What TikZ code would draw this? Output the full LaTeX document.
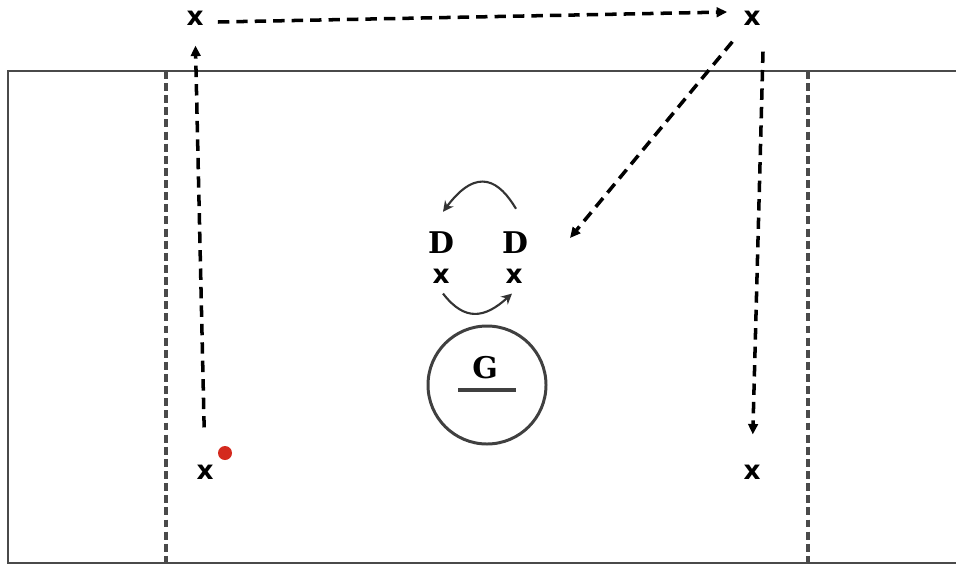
\documentclass[tikz,border=0pt]{standalone}
\usepackage{fontspec}
\setmainfont{DejaVu Sans}
\newfontfamily\letterfont{DejaVu Serif}
\usepackage{tikz}
\usetikzlibrary{arrows.meta,calc}
\definecolor{lines}{HTML}{4A4A4A}
\definecolor{ball}{HTML}{D42A1E}

\begin{document}
\begin{tikzpicture}[
      x=0.02cm, y=-0.02cm,
      player/.style={inner sep=0pt, font=\bfseries\fontsize{15}{15}\selectfont},
      defender/.style={inner sep=0pt, font=\letterfont\bfseries\fontsize{17}{17}\selectfont},
      field/.style={draw=lines, line width=1.5pt},
      crease/.style={draw=lines, line width=1.9pt, dash pattern=on 4.5pt off 2.4pt},
      run/.style={-{Triangle[length=6pt,width=5.5pt]}, line width=2pt, dash pattern=on 6.5pt off 4pt},
      swap/.style={-{Stealth[length=6pt,width=6pt]}, line width=1.2pt, draw=black!80}
  ]
    \useasboundingbox (0,0) rectangle (956,565);
    % field
    \draw[field] (956,71) -- (8,71) -- (8,563) -- (956,563);
    \draw[crease] (166,71) -- (166,563);
    \draw[crease] (808,71) -- (808,563);
    % players
    \node[player] (xtl) at (195,18) {x};
    \node[player] (xtr) at (752,18) {x};
    \node[player] (xbl) at (205,472) {x};
    \node[player] (xbr) at (752,472) {x};
    \node[player] (xl) at (441,276) {x};
    \node[player] (xr) at (514,276) {x};
    \node[defender] (dl) at (441,243) {D};
    \node[defender] (dr) at (515,243) {D};
    \fill[ball] (225,453) circle (7) coordinate (puck);
    % goal
    \node[draw=black!75, line width=1.7pt, circle, minimum size=118*0.02cm] (goal) at (487,385) {};
    \node[defender] (glabel) at (485,368) {G};
    \draw[line width=2pt, draw=black!75] (458,390) -- (516,390);
    \coordinate (gap) at (570,238);
    % runs
    \draw[run, shorten <=0.74cm, shorten >=0.4cm] (xbl.north) -- (xtl.south);
    \draw[run] ([shift={(14,4)}]xtl.east) -- ([shift={(-16,-6)}]xtr.west);
    \draw[run, shorten <=0.42cm] (xtr) -- (gap);
    \draw[run, shorten >=0.6cm] ([shift={(11,26)}]xtr.south) -- (xbr.north);
    % defenders switching
    \draw[swap] ([shift={(1,-23)}]dr.north) .. controls (500,182) and (478,165) .. ([shift={(2,-20)}]dl.north);
    \draw[swap] ([shift={(2,10)}]xl.south) .. controls (465,322) and (485,318) .. ([shift={(-2,10)}]xr.south);
\end{tikzpicture}
\end{document}
